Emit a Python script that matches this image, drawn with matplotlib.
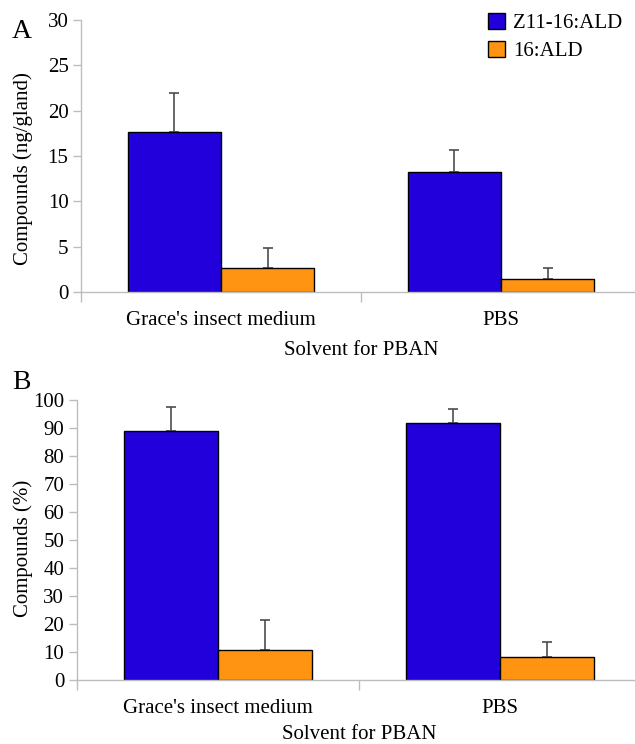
import numpy as np
import matplotlib
matplotlib.use("Agg")
import matplotlib.pyplot as plt
from matplotlib.patches import Patch

plt.rcParams['font.family'] = ['Liberation Serif', 'DejaVu Serif']

solvents = ["Grace's insect medium", "PBS"]
compounds = ["Z11-16:ALD", "16:ALD"]
colors = ["#2200dc", "#ff9412"]

# amount per gland (ng), mean and upper SE
amount_mean = {"Z11-16:ALD": [17.7, 13.2], "16:ALD": [2.7, 1.4]}
amount_err = {"Z11-16:ALD": [4.2, 2.45], "16:ALD": [2.15, 1.3]}

# relative composition (%)
percent_mean = {"Z11-16:ALD": [89.1, 91.8], "16:ALD": [10.8, 8.4]}
percent_err = {"Z11-16:ALD": [8.3, 5.1], "16:ALD": [10.6, 5.3]}

W, H = 635, 744
fig = plt.figure(figsize=(W / 100, H / 100), dpi=100)

axis_grey = "#bdbdbd"
fs = 15


def draw_panel(ax, means, errs, ymax, ystep, ylabel, xlabelpad):
    x = np.arange(len(solvents)) + 0.5
    width = 1 / 3
    for i, (name, col) in enumerate(zip(compounds, colors)):
        xpos = x + (i - 0.5) * width
        ax.bar(xpos, means[name], width=width, color=col,
               edgecolor="black", linewidth=1.0, zorder=2)
        ax.errorbar(xpos, means[name], yerr=[np.zeros(len(xpos)), errs[name]],
                    fmt="none", ecolor="#4d4d4d", elinewidth=1.2,
                    capsize=3.8, capthick=1.2, zorder=1)
    ax.set_xlim(0, len(solvents))
    ax.set_ylim(0, ymax)
    ax.set_yticks(np.arange(0, ymax + 0.1, ystep))
    ax.set_xticks(np.arange(0, len(solvents) + 1))
    ax.set_xticklabels([])
    ax.set_xticks(x, minor=True)
    ax.set_xticklabels(solvents, minor=True)
    ax.tick_params(axis="x", which="minor", length=0, pad=13.5, labelsize=fs)
    ax.tick_params(axis="x", which="major", length=7, width=1, color=axis_grey)
    ax.tick_params(axis="y", length=6, width=1, color=axis_grey, pad=3,
                   labelsize=fs)
    for side in ("top", "right"):
        ax.spines[side].set_visible(False)
    for side in ("left", "bottom"):
        ax.spines[side].set_color(axis_grey)
        ax.spines[side].set_linewidth(1)
    ax.set_ylabel(ylabel, fontsize=fs)
    ax.set_xlabel("Solvent for PBAN", fontsize=fs, labelpad=xlabelpad)


ax_a = fig.add_axes([81 / W, 1 - 292 / H, 560 / W, 272 / H])
draw_panel(ax_a, amount_mean, amount_err, 30, 5, "Compounds (ng/gland)", 8)
ax_a.yaxis.set_label_coords(-0.0857, 0.452)

ax_b = fig.add_axes([76.7 / W, 1 - 680.3 / H, 564.3 / W, 280.3 / H])
draw_panel(ax_b, percent_mean, percent_err, 100, 10, "Compounds (%)", 5)
ax_b.yaxis.set_label_coords(-0.0774, 0.472)

fig.text(12 / W, 1 - 38 / H, "A", fontsize=20, va="baseline", ha="left")
fig.text(12 / W, 1 - 389 / H, "B", fontsize=20, va="baseline", ha="left")

handles = [Patch(facecolor=c, edgecolor="black", linewidth=1.0) for c in colors]
fig.legend(handles, compounds, loc="upper left",
           bbox_to_anchor=(488 / W, 1 - 13 / H), frameon=False, fontsize=fs,
           handlelength=0.82, handleheight=0.82, handletextpad=0.4,
           labelspacing=0.35, borderpad=0, borderaxespad=0)

fig.savefig("out.png", dpi=100)
